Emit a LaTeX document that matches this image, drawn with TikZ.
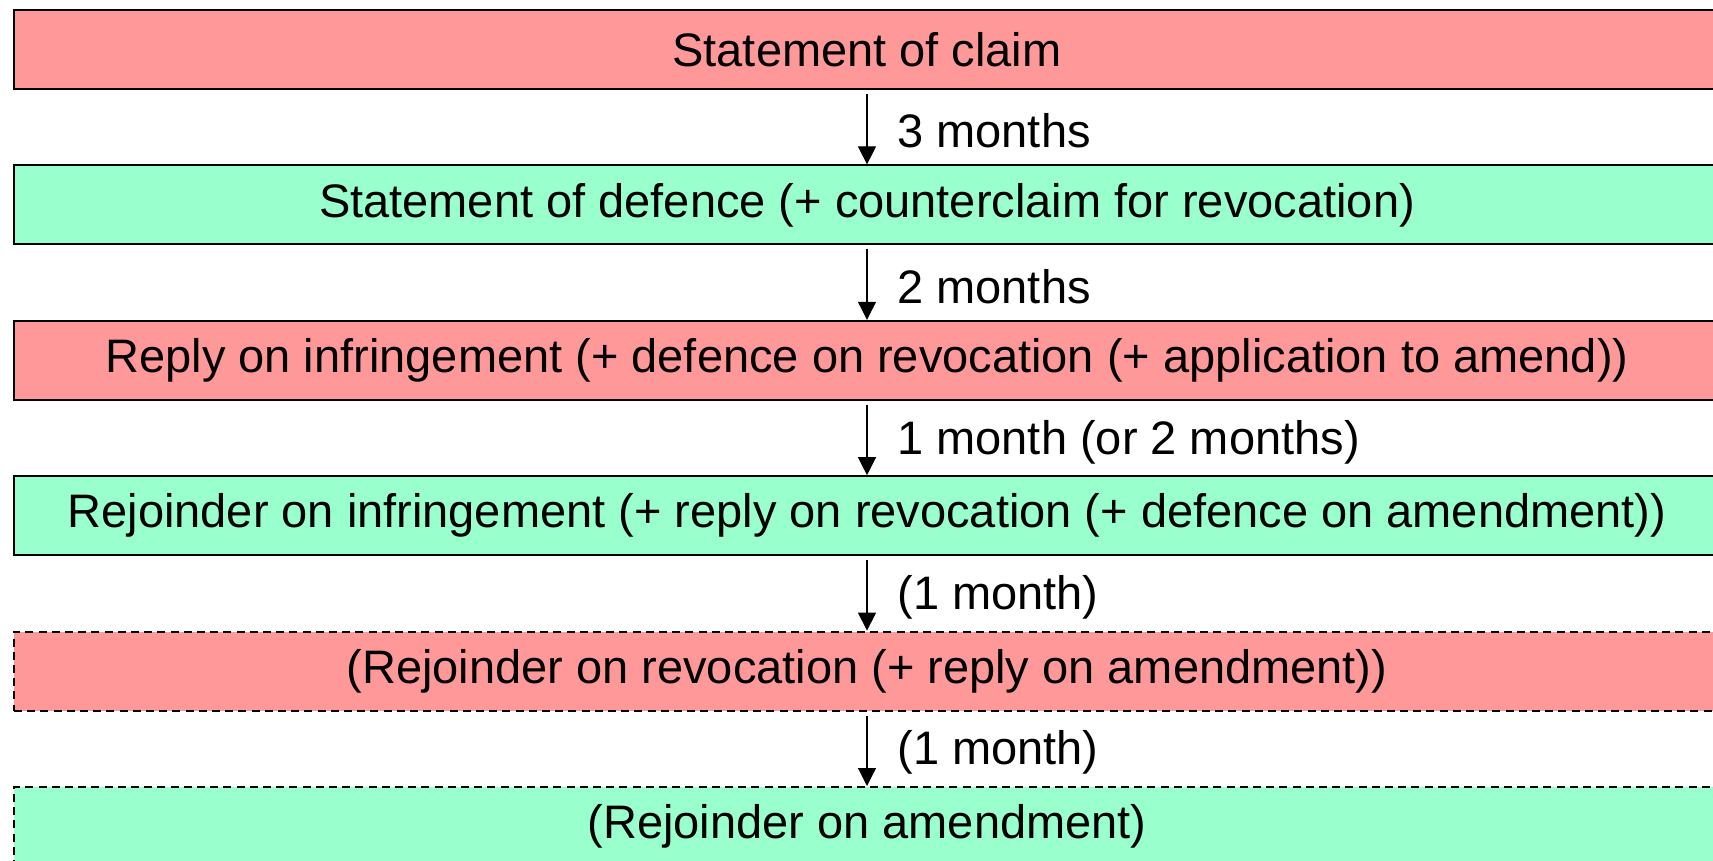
\documentclass[tikz,border=0pt]{standalone}
\usepackage{fontspec}
\setmainfont{Liberation Sans}
\usetikzlibrary{arrows.meta,calc}
\definecolor{boxred}{RGB}{255,153,153}
\definecolor{boxgreen}{RGB}{153,255,204}
\tikzset{
  stagebox/.style={draw=black, line width=1pt, minimum width=853pt, minimum height=39.5pt, inner sep=0pt, font=\fontsize{23.5}{27}\selectfont, anchor=north west},
  redbox/.style={stagebox, fill=boxred},
  greenbox/.style={stagebox, fill=boxgreen},
  optbox/.style={dash pattern=on 4pt off 2.6pt},
  flow/.style={line width=0.6pt, -{Triangle[width=9pt,length=9pt]}},
  gaplabel/.style={anchor=west, inner sep=0pt, font=\fontsize{23.5}{27}\selectfont}
}
\begin{document}
\begin{tikzpicture}[x=0.5pt,y=-0.5pt]
\useasboundingbox (0,0) rectangle (1713,861);
\clip (0,0) rectangle (1713,861);
\fill[white] (0,0) rectangle (1713,861);
\node[redbox] (b1) at (13,9) {Statement of claim};
\node[greenbox] (b2) at (13,164.4) {Statement of defence (+ counterclaim for revocation)};
\node[redbox] (b3) at (13,319.8) {Reply on infringement (+ defence on revocation (+ application to amend))};
\node[greenbox] (b4) at (13,475.2) {Rejoinder on infringement (+ reply on revocation (+ defence on amendment))};
\node[redbox, optbox] (b5) at (13,630.6) {(Rejoinder on revocation (+ reply on amendment))};
\node[greenbox, optbox] (b6) at (13,786) {(Rejoinder on amendment)};

\foreach \a/\b/\t in {b1/b2/3 months, b2/b3/2 months, b3/b4/1 month (or 2 months), b4/b5/(1 month), b5/b6/(1 month)}{
  \draw[flow] ([yshift=-2pt]\a.south) -- (\b.north);
  \node[gaplabel] at ($(\a.south)!0.5!(\b.north)+(30,4)$) {\t};
}
\end{tikzpicture}
\end{document}
